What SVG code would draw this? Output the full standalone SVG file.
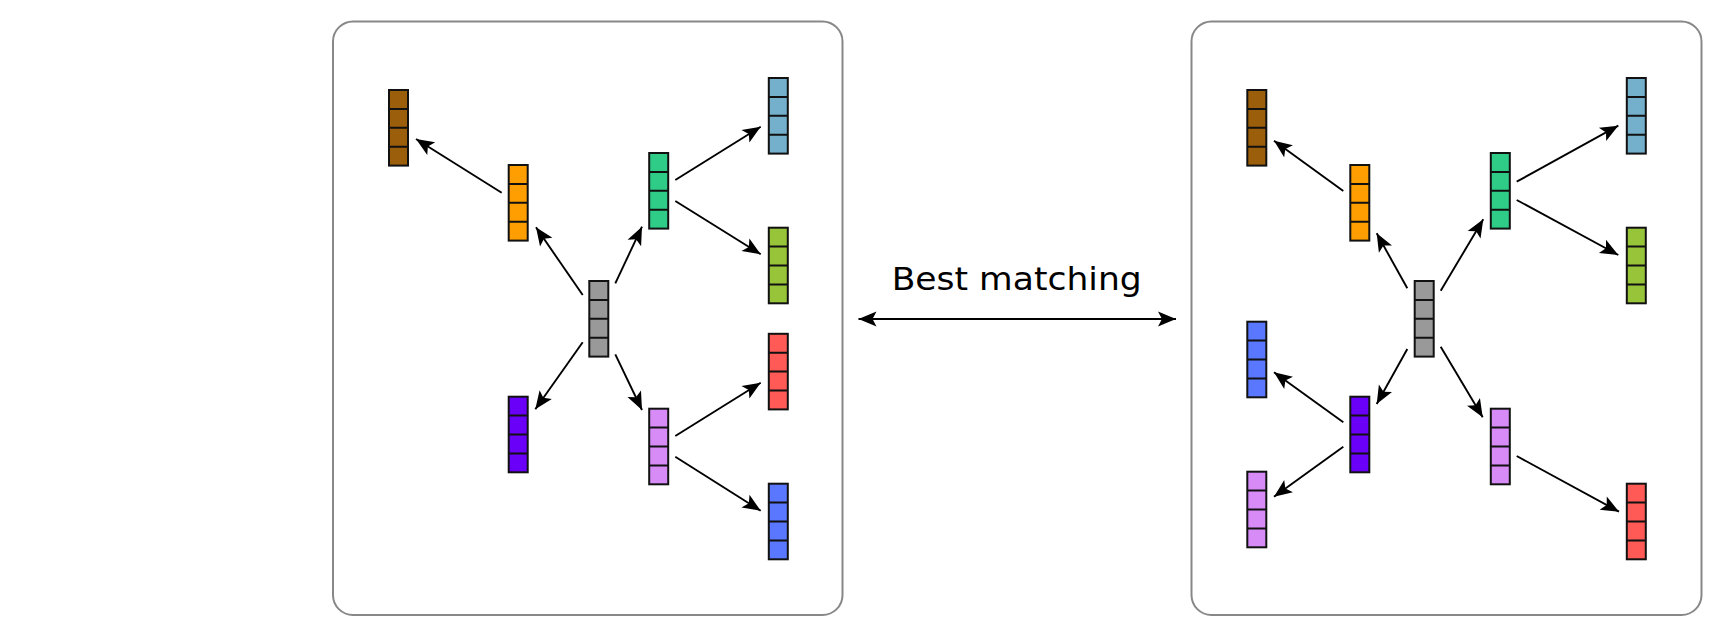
<svg xmlns="http://www.w3.org/2000/svg" xmlns:xlink="http://www.w3.org/1999/xlink" width="1729" height="623" viewBox="0 0 1729 623">
  <style>
    .panel { fill: #ffffff; stroke: #888888; stroke-width: 2; }
    .vec { stroke: #111111; stroke-width: 2; }
    .edge { fill: none; stroke: #000000; stroke-width: 1.9; }
    .head { fill: #000000; }
    .label { font-family: "DejaVu Sans", "Liberation Sans", sans-serif; font-size: 32px; fill: #000000; }
    .brown { fill: #9b5e0a; }
    .orange { fill: #ff9e00; }
    .gray { fill: #999999; }
    .green { fill: #2ecc87; }
    .lblue { fill: #74b0cc; }
    .ygreen { fill: #98c43a; }
    .red { fill: #ff5a55; }
    .violet { fill: #6a00f8; }
    .lav { fill: #d68bf6; }
    .blue { fill: #5a78ff; }
  </style>
  <defs>
    <!-- a 4-cell column vector; fill comes from the <use> -->
    <g id="vec4" class="vec">
      <rect x="0" y="0" width="19" height="75.6"/>
      <path d="M0,18.9h19M0,37.8h19M0,56.7h19" fill="none"/>
    </g>
    <!-- arrowhead with its tip at the origin, pointing along +x -->
    <path id="ah" class="head" d="M0,0 L-18,-7.5 L-14,0 L-18,7.5 Z"/>
  </defs>

  <rect id="panel-left" class="panel" x="333" y="21.5" width="509.5" height="593.5" rx="20" ry="20"/>
  <rect id="panel-right" class="panel" x="1191.5" y="21.5" width="510" height="593.5" rx="20" ry="20"/>

  <g id="connectors">
    <!-- left tree -->
    <line class="edge" x1="582.7" y1="295" x2="536" y2="227.3"/>
    <use xlink:href="#ah" transform="translate(536,227.3) rotate(-124.6)"/>
    <line class="edge" x1="501.7" y1="192.7" x2="416" y2="139"/>
    <use xlink:href="#ah" transform="translate(416,139) rotate(-147.9)"/>
    <line class="edge" x1="615.3" y1="283.3" x2="642" y2="226.7"/>
    <use xlink:href="#ah" transform="translate(642,226.7) rotate(-64.75)"/>
    <line class="edge" x1="675.3" y1="180" x2="760.7" y2="126.7"/>
    <use xlink:href="#ah" transform="translate(760.7,126.7) rotate(-32)"/>
    <line class="edge" x1="675.3" y1="201" x2="760.7" y2="254.3"/>
    <use xlink:href="#ah" transform="translate(760.7,254.3) rotate(32)"/>
    <line class="edge" x1="582.7" y1="342.3" x2="535.3" y2="409.3"/>
    <use xlink:href="#ah" transform="translate(535.3,409.3) rotate(125.3)"/>
    <line class="edge" x1="615.3" y1="354.3" x2="642" y2="410"/>
    <use xlink:href="#ah" transform="translate(642,410) rotate(64.4)"/>
    <line class="edge" x1="675.3" y1="436" x2="760.7" y2="382.7"/>
    <use xlink:href="#ah" transform="translate(760.7,382.7) rotate(-32)"/>
    <line class="edge" x1="675.3" y1="456.7" x2="760.7" y2="510.7"/>
    <use xlink:href="#ah" transform="translate(760.7,510.7) rotate(32.3)"/>
    <!-- right tree -->
    <line class="edge" x1="1407.3" y1="288.3" x2="1376.7" y2="233.3"/>
    <use xlink:href="#ah" transform="translate(1376.7,233.3) rotate(-119.1)"/>
    <line class="edge" x1="1343.3" y1="191" x2="1274" y2="140.7"/>
    <use xlink:href="#ah" transform="translate(1274,140.7) rotate(-144)"/>
    <line class="edge" x1="1440.7" y1="290.7" x2="1483.3" y2="219.3"/>
    <use xlink:href="#ah" transform="translate(1483.3,219.3) rotate(-59.2)"/>
    <line class="edge" x1="1516.7" y1="181.7" x2="1618.3" y2="125.7"/>
    <use xlink:href="#ah" transform="translate(1618.3,125.7) rotate(-28.9)"/>
    <line class="edge" x1="1516.7" y1="200" x2="1618.3" y2="255"/>
    <use xlink:href="#ah" transform="translate(1618.3,255) rotate(28.4)"/>
    <line class="edge" x1="1407.3" y1="349" x2="1376.7" y2="404"/>
    <use xlink:href="#ah" transform="translate(1376.7,404) rotate(119.1)"/>
    <line class="edge" x1="1440.7" y1="346.7" x2="1482.7" y2="417.3"/>
    <use xlink:href="#ah" transform="translate(1482.7,417.3) rotate(59.25)"/>
    <line class="edge" x1="1343.3" y1="422.3" x2="1274" y2="372.3"/>
    <use xlink:href="#ah" transform="translate(1274,372.3) rotate(-144.2)"/>
    <line class="edge" x1="1343.3" y1="446.7" x2="1274" y2="496.7"/>
    <use xlink:href="#ah" transform="translate(1274,496.7) rotate(144.2)"/>
    <line class="edge" x1="1516.7" y1="456" x2="1619" y2="511.7"/>
    <use xlink:href="#ah" transform="translate(1619,511.7) rotate(28.6)"/>
    <!-- matching link between the two trees -->
    <line id="match-link" class="edge" x1="858.5" y1="319" x2="1176" y2="319"/>
    <use xlink:href="#ah" transform="translate(858.5,319) rotate(180)"/>
    <use xlink:href="#ah" transform="translate(1176,319)"/>
  </g>

  <text id="match-label" class="label" x="891.7" y="290" textLength="250" lengthAdjust="spacingAndGlyphs">Best matching</text>

  <!-- left tree nodes -->
  <g id="L-brown"><use xlink:href="#vec4" class="brown" x="389" y="90"/></g>
  <g id="L-orange"><use xlink:href="#vec4" class="orange" x="508.7" y="165"/></g>
  <g id="L-gray"><use xlink:href="#vec4" class="gray" x="589.3" y="281"/></g>
  <g id="L-green"><use xlink:href="#vec4" class="green" x="649.2" y="153"/></g>
  <g id="L-lblue"><use xlink:href="#vec4" class="lblue" x="768.8" y="78"/></g>
  <g id="L-ygreen"><use xlink:href="#vec4" class="ygreen" x="768.8" y="227.7"/></g>
  <g id="L-red"><use xlink:href="#vec4" class="red" x="768.8" y="333.8"/></g>
  <g id="L-violet"><use xlink:href="#vec4" class="violet" x="508.7" y="396.7"/></g>
  <g id="L-lav"><use xlink:href="#vec4" class="lav" x="649.2" y="408.7"/></g>
  <g id="L-blue"><use xlink:href="#vec4" class="blue" x="768.8" y="483.7"/></g>

  <!-- right tree nodes -->
  <g id="R-brown"><use xlink:href="#vec4" class="brown" x="1247.3" y="90"/></g>
  <g id="R-orange"><use xlink:href="#vec4" class="orange" x="1350.3" y="165"/></g>
  <g id="R-gray"><use xlink:href="#vec4" class="gray" x="1414.7" y="281"/></g>
  <g id="R-green"><use xlink:href="#vec4" class="green" x="1490.8" y="153"/></g>
  <g id="R-lblue"><use xlink:href="#vec4" class="lblue" x="1626.8" y="78"/></g>
  <g id="R-ygreen"><use xlink:href="#vec4" class="ygreen" x="1626.8" y="227.7"/></g>
  <g id="R-blue"><use xlink:href="#vec4" class="blue" x="1247.3" y="321.7"/></g>
  <g id="R-violet"><use xlink:href="#vec4" class="violet" x="1350.3" y="396.7"/></g>
  <g id="R-lav-left"><use xlink:href="#vec4" class="lav" x="1247.3" y="471.7"/></g>
  <g id="R-lav-right"><use xlink:href="#vec4" class="lav" x="1490.8" y="408.7"/></g>
  <g id="R-red"><use xlink:href="#vec4" class="red" x="1626.8" y="483.7"/></g>
</svg>
